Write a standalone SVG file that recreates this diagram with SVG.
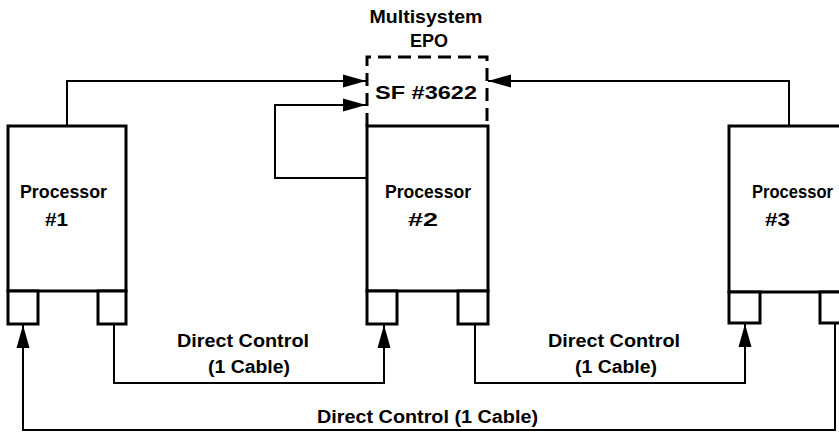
<svg xmlns="http://www.w3.org/2000/svg" width="839" height="435" viewBox="0 0 839 435">
<style>
  .box{fill:#fff;stroke:#000;stroke-width:3}
  .dash{fill:none;stroke:#000;stroke-width:3;stroke-dasharray:13 7}
  .ln{fill:none;stroke:#000;stroke-width:2}
  text{font-family:"Liberation Sans",Arial,sans-serif;font-weight:bold;font-size:18px;fill:#000}
</style>
<defs>
  <marker id="ah" markerUnits="userSpaceOnUse" markerWidth="24" markerHeight="16" viewBox="0 0 24 16" refX="23" refY="8" orient="auto">
    <path d="M0,1.5 L23,8 L0,14.5 Z" fill="#000"/>
  </marker>
</defs>
<rect width="839" height="435" fill="#fff"/>
<g id="epo">
  <path class="dash" d="M367,126 V57 H487 V126"/>
  <text x="426" y="23" text-anchor="middle" font-size="18.5" textLength="113" lengthAdjust="spacingAndGlyphs">Multisystem</text>
  <text x="429" y="47" text-anchor="middle" font-size="18.5" textLength="38" lengthAdjust="spacingAndGlyphs">EPO</text>
  <text x="426" y="99" text-anchor="middle" font-size="20" textLength="102" lengthAdjust="spacingAndGlyphs">SF #3622</text>
</g>
<g id="processor1">
  <rect class="box" x="8" y="126" width="118" height="165"/>
  <rect class="box" x="8" y="291" width="30" height="33"/>
  <rect class="box" x="98" y="291" width="28" height="33"/>
  <text x="20" y="198" textLength="87" lengthAdjust="spacingAndGlyphs">Processor</text>
  <text x="45" y="226" textLength="23" lengthAdjust="spacingAndGlyphs">#1</text>
</g>
<g id="processor2">
  <rect class="box" x="367" y="126" width="121" height="165"/>
  <rect class="box" x="367" y="291" width="30" height="33"/>
  <rect class="box" x="458" y="291" width="30" height="33"/>
  <text x="385" y="198" textLength="86" lengthAdjust="spacingAndGlyphs">Processor</text>
  <text x="408" y="226" textLength="30" lengthAdjust="spacingAndGlyphs">#2</text>
</g>
<g id="processor3">
  <rect class="box" x="729" y="126" width="120" height="166"/>
  <rect class="box" x="729" y="292" width="31" height="31"/>
  <rect class="box" x="820" y="292" width="30" height="31"/>
  <text x="752" y="198" textLength="81" lengthAdjust="spacingAndGlyphs">Processor</text>
  <text x="765" y="226" textLength="25" lengthAdjust="spacingAndGlyphs">#3</text>
</g>
<g id="connectors">
  <path class="ln" d="M67,126 V81 H366" marker-end="url(#ah)"/>
  <path class="ln" d="M366,178 H275 V105 H366" marker-end="url(#ah)"/>
  <path class="ln" d="M789,126 V81 H488" marker-end="url(#ah)"/>
  <path class="ln" d="M114,325 V383 H384 V325" marker-end="url(#ah)"/>
  <path class="ln" d="M475,325 V383 H745 V324" marker-end="url(#ah)"/>
  <path class="ln" d="M835,323 V430 H23 V325" marker-end="url(#ah)"/>
</g>
<g id="labels">
  <text x="177" y="347" textLength="132" lengthAdjust="spacingAndGlyphs">Direct Control</text>
  <text x="208" y="373" textLength="82" lengthAdjust="spacingAndGlyphs">(1 Cable)</text>
  <text x="548" y="347" textLength="132" lengthAdjust="spacingAndGlyphs">Direct Control</text>
  <text x="575" y="373" textLength="82" lengthAdjust="spacingAndGlyphs">(1 Cable)</text>
  <text x="317" y="423" textLength="221" lengthAdjust="spacingAndGlyphs">Direct Control (1 Cable)</text>
</g>
</svg>
